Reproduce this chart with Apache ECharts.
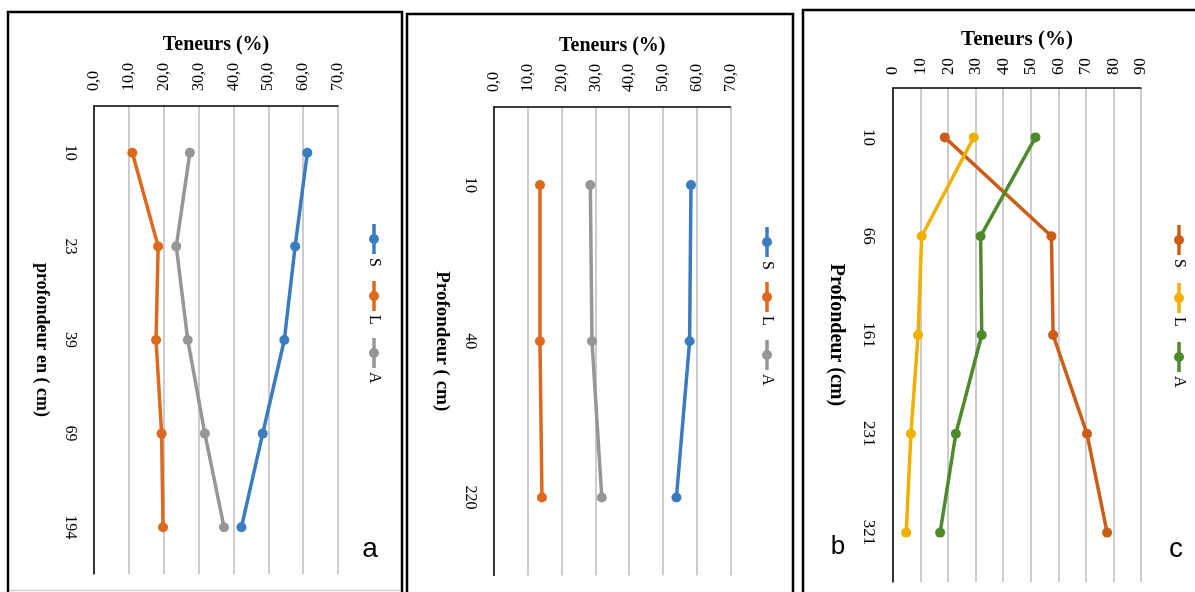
<!DOCTYPE html>
<html><head><meta charset="utf-8">
<script src="https://cdn.jsdelivr.net/npm/echarts@6.0.0/dist/echarts.min.js"></script>
<style>html,body{margin:0;padding:0;background:#fff;}#c{width:1195px;height:592px;}</style>
</head><body><div id="c"></div>
<script>
// ---- data ----
const seriesNames = ['S', 'L', 'A'];
const panelLetters = ['a', 'b', 'c'];
const valueAxisTitle = 'Teneurs (%)';
const depthTitles = ['profondeur en ( cm)', 'Profondeur ( cm)', 'Profondeur (cm)'];

const catsA = ['10', '23', '39', '69', '194'];
const sA = [61.2, 57.7, 54.6, 48.4, 42.3];
const lA = [11.0, 18.4, 17.8, 19.4, 19.8];
const aA = [27.5, 23.6, 26.9, 31.8, 37.3];

const catsB = ['10', '40', '220'];
const sB = [58.3, 57.9, 54.0];
const lB = [13.6, 13.6, 14.2];
const aB = [28.5, 29.0, 31.9];

const catsC = ['10', '66', '161', '231', '321'];
const sC = [18.8, 57.5, 58.1, 70.4, 77.7];
const lC = [29.3, 10.4, 9.1, 6.5, 4.8];
const aC = [51.7, 31.8, 32.2, 22.8, 17.1];

const axisMaxAB = 70;
const axisMaxC = 90;
const tickStep = 10;

// ---- layout / style ----
const SERIF = '"Liberation Serif","Times New Roman",serif';
const SANS = '"Liberation Sans",Arial,sans-serif';

const panels = [
  { cats: catsA, data: [sA, lA, aA], colors: ['#3b7cc1', '#dc691d', '#969696'], max: axisMaxAB, comma: true,
    grid: { left: 94, top: 106, width: 244, height: 468 }, xGap: 51, yGap: 43, labelMargin: 15, xFs: 20, yFs: 18, tickFs: 16,
    legend: { x: 374, ys: [239, 296, 353] }, letter: { x: 370, y: 549, fs: 28 },
    box: { x: 8, y: 12, w: 394, h: 700 } },
  { cats: catsB, data: [sB, lB, aB], colors: ['#3b7cc1', '#dc691d', '#969696'], max: axisMaxAB, comma: true,
    grid: { left: 494, top: 107, width: 236.5, height: 468.5 }, xGap: 51, yGap: 43, labelMargin: 15, xFs: 20, yFs: 19, tickFs: 16,
    legend: { x: 767, ys: [242, 297, 355] }, letter: { x: 838, y: 547, fs: 26 },
    box: { x: 407, y: 14, w: 386, h: 700 } },
  { cats: catsC, data: [sC, lC, aC], colors: ['#cc5d17', '#f0b000', '#4e8a2b'], max: axisMaxC, comma: false,
    grid: { left: 893, top: 88, width: 248, height: 494 }, xGap: 36, yGap: 47, labelMargin: 13, xFs: 21, yFs: 20, tickFs: 17,
    legend: { x: 1179, ys: [240, 298, 357] }, letter: { x: 1176, y: 549, fs: 28 },
    box: { x: 803, y: 10, w: 420, h: 700 } }
];

const grid = [], xAxis = [], yAxis = [], series = [], graphic = [];

panels.forEach((p, i) => {
  grid.push(Object.assign({ outerBoundsMode: 'none', containLabel: false }, p.grid));
  xAxis.push({
    gridIndex: i, type: 'value', position: 'top', min: 0, max: p.max, interval: tickStep,
    name: valueAxisTitle, nameLocation: 'middle', nameGap: p.xGap,
    nameTextStyle: { fontFamily: SERIF, fontWeight: 'bold', fontSize: p.xFs, color: '#000' },
    axisLine: { show: true, lineStyle: { color: '#000', width: 1.5 } },
    axisTick: { show: false },
    axisLabel: { rotate: -90, margin: p.labelMargin, fontFamily: SERIF, fontSize: p.tickFs, color: '#000',
      formatter: v => p.comma ? v.toFixed(1).replace('.', ',') : String(v) },
    splitLine: { show: true, lineStyle: { color: '#c0c0c0', width: 1.6 } }
  });
  yAxis.push({
    gridIndex: i, type: 'category', data: p.cats, inverse: true, boundaryGap: true,
    name: depthTitles[i], nameLocation: 'middle', nameGap: p.yGap, nameRotate: -90,
    nameTextStyle: { fontFamily: SERIF, fontWeight: 'bold', fontSize: p.yFs, color: '#000' },
    axisLine: { show: true, onZero: false, lineStyle: { color: '#000', width: 1.5 } },
    axisTick: { show: false },
    axisLabel: { rotate: -90, interval: 0, margin: 16, fontFamily: SERIF, fontSize: p.tickFs, color: '#000' },
    splitLine: { show: false }
  });
  seriesNames.forEach((nm, k) => {
    series.push({
      type: 'line', name: nm, xAxisIndex: i, yAxisIndex: i, data: p.data[k],
      symbol: 'circle', symbolSize: 10, showSymbol: true,
      lineStyle: { color: p.colors[k], width: 3.5 },
      itemStyle: { color: p.colors[k] },
      z: 3
    });
    // legend entry (vertical, rotated like the source)
    graphic.push({
      type: 'group', x: p.legend.x, y: p.legend.ys[k], rotation: -Math.PI / 2,
      children: [
        { type: 'line', shape: { x1: -15, y1: 0, x2: 15, y2: 0 }, style: { stroke: p.colors[k], lineWidth: 3.5 } },
        { type: 'circle', shape: { cx: 0, cy: 0, r: 5 }, style: { fill: p.colors[k] } },
        { type: 'text', x: 19, y: 0, style: { text: nm, fill: '#000', font: '16px ' + SERIF, textAlign: 'left', textVerticalAlign: 'middle' } }
      ]
    });
  });
  graphic.push({
    type: 'rect', shape: { x: p.box.x, y: p.box.y, width: p.box.w, height: p.box.h },
    style: { fill: 'none', stroke: '#000', lineWidth: 2.5 }, silent: true
  });
  graphic.push({
    type: 'text', x: p.letter.x, y: p.letter.y,
    style: { text: panelLetters[i], fill: '#000', font: p.letter.fs + 'px ' + SANS, textAlign: 'center', textVerticalAlign: 'middle' }
  });
});
graphic.push({ type: 'line', shape: { x1: 9, y1: 590.5, x2: 401, y2: 590.5 }, style: { stroke: '#cfcfcf', lineWidth: 1.5 } });

const chart = echarts.init(document.getElementById('c'), null, { renderer: 'canvas' });
chart.setOption({
  backgroundColor: '#fff',
  animation: false,
  grid, xAxis, yAxis, series, graphic,
  legend: { show: false },
  tooltip: { show: false }
});
</script>
</body></html>
